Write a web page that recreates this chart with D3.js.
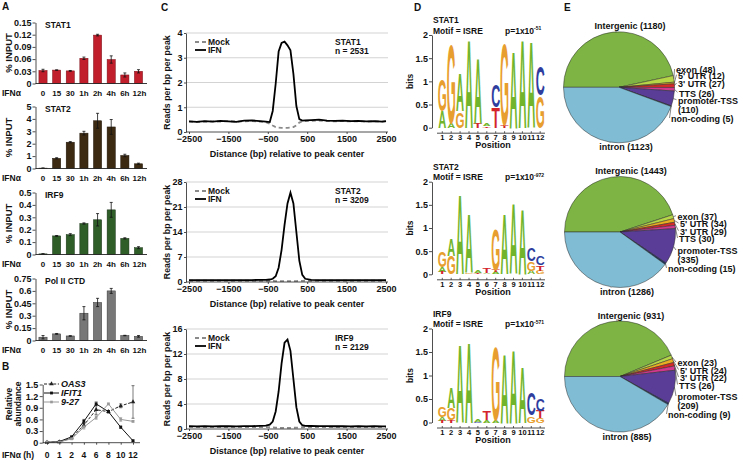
<!DOCTYPE html>
<html><head><meta charset="utf-8">
<script src="https://cdn.jsdelivr.net/npm/d3@7"></script>
<style>
body{margin:0;background:#fff}
svg{display:block}
text{font-family:"Liberation Sans",Arial,Helvetica,sans-serif;font-weight:bold;fill:#111}
</style>
</head><body>
<svg id="fig" width="743" height="463"></svg>
<script>
// ---------------- DATA ----------------
// Panel A: ChIP-qPCR % input
const timeCats = ["0","15","30","1h","2h","4h","6h","12h"];
const stat1Vals = [0.032,0.033,0.031,0.062,0.119,0.059,0.021,0.030];
const stat1Err  = [0.003,0.0005,0.001,0.003,0.002,0.009,0.005,0.004];
const stat1Ticks = [0,0.03,0.06,0.09,0.12,0.15];
const stat2Vals = [0.03,0.82,2.12,2.85,3.85,3.35,1.05,0.38];
const stat2Err  = [0.01,0.05,0.05,0.15,0.6,0.6,0.1,0.05];
const stat2Ticks = [0,1,2,3,4,5];
const irf9Vals = [0.005,0.15,0.16,0.25,0.28,0.36,0.13,0.055];
const irf9Err  = [0.001,0.003,0.008,0.005,0.05,0.06,0.005,0.008];
const irf9Ticks = [0,0.1,0.2,0.3,0.4,0.5];
const polVals = [0.04,0.08,0.055,0.33,0.46,0.60,0.06,0.05];
const polErr  = [0.02,0.005,0.003,0.08,0.05,0.03,0.003,0.01];
const polTicks = [0,0.15,0.3,0.45,0.6,0.75];

// Panel B: relative abundance
const hoursB = ["0","1","2","4","6","8","10","12"];
const bTicks = [0,0.3,0.6,0.9,1.2,1.5];
const oas3Vals = [0.01,0.02,0.12,0.45,0.85,0.80,0.95,1.05];
const oas3Err  = [0,0,0.02,0.05,0.12,0.03,0.05,0.42];
const ifit1Vals = [0.01,0.03,0.15,0.55,1.00,0.80,0.40,0.05];
const ifit1Err  = [0,0,0.02,0.05,0.05,0.03,0.03,0.02];
const g927Vals = [0.01,0.02,0.10,0.40,0.65,1.00,0.60,0.55];
const g927Err  = [0,0,0.02,0.05,0.05,0.02,0.05,0.02];

// Panel C: read density profiles
const posC = [-2500,-2300,-2100,-1900,-1700,-1500,-1300,-1100,-900,-700,-550,-450,-375,-300,-225,-150,-75,0,75,150,225,300,375,450,600,800,1000,1200,1400,1600,1800,2000,2200,2400,2500];
const cXTicks = [-2500,-1500,-500,500,1500,2500];
const stat1Ifn = [0.43,0.41,0.44,0.42,0.45,0.43,0.41,0.46,0.47,0.44,0.42,0.40,0.85,1.95,3.25,3.6,3.65,3.5,3.3,2.35,1.05,0.52,0.46,0.47,0.48,0.5,0.46,0.45,0.46,0.44,0.45,0.43,0.44,0.42,0.44];
const stat1Mock = [0.42,0.41,0.42,0.43,0.42,0.44,0.42,0.43,0.44,0.42,0.40,0.33,0.26,0.2,0.18,0.17,0.17,0.17,0.18,0.2,0.27,0.38,0.43,0.44,0.45,0.46,0.44,0.43,0.44,0.43,0.43,0.42,0.43,0.42,0.43];
const stat2Ifn = [0.55,0.5,0.55,0.5,0.55,0.5,0.55,0.5,0.55,0.6,0.6,0.7,0.9,1.6,4,9,16,22,25,22,14,6,2,0.9,0.6,0.55,0.5,0.55,0.5,0.55,0.5,0.5,0.55,0.5,0.5];
const stat2Mock = [0.35,0.35,0.35,0.35,0.35,0.35,0.35,0.35,0.35,0.35,0.35,0.33,0.3,0.27,0.25,0.25,0.25,0.25,0.25,0.25,0.27,0.3,0.33,0.35,0.35,0.35,0.35,0.35,0.35,0.35,0.35,0.35,0.35,0.35,0.35];
const irf9Ifn = [0.45,0.42,0.45,0.43,0.45,0.44,0.42,0.45,0.46,0.5,0.55,0.7,1.2,2.8,6,10.5,13.8,14.3,12.5,8,3.5,1.2,0.6,0.5,0.48,0.46,0.45,0.44,0.45,0.43,0.44,0.43,0.44,0.42,0.43];
const irf9Mock = [0.3,0.3,0.3,0.3,0.3,0.3,0.3,0.3,0.3,0.3,0.3,0.28,0.25,0.22,0.2,0.18,0.18,0.18,0.18,0.2,0.22,0.25,0.28,0.3,0.3,0.3,0.3,0.3,0.3,0.3,0.3,0.3,0.3,0.3,0.3];

// Panel D: motif logos (letters bottom -> top, heights in bits)
const logoTicks = [0,0.5,1,1.5,2];
const stat1Logo = [
  [["A",0.35],["G",0.7]],
  [["A",0.1],["G",1.75]],
  [["G",0.35],["A",0.8]],
  [["A",1.9]],
  [["T",0.1],["A",1.4]],
  [["T",0.03],["A",0.04]],
  [["T",0.45],["C",0.5]],
  [["T",0.06],["G",1.8]],
  [["A",1.65]],
  [["A",1.9]],
  [["A",1.85]],
  [["G",0.7],["C",0.65]]
];
const stat2Logo = [
  [["T",0.04],["A",0.12],["G",0.35]],
  [["G",0.4],["A",0.35]],
  [["A",1.7]],
  [["G",0.03],["A",1.25]],
  [["T",0.02],["A",0.04]],
  [["A",0.03],["T",0.1]],
  [["A",0.05],["T",0.04],["G",0.9]],
  [["A",1.3]],
  [["A",1.5]],
  [["A",1.4]],
  [["A",0.08],["G",0.2],["C",0.3]],
  [["G",0.08],["T",0.12],["C",0.2]]
];
const irf9Logo = [
  [["T",0.04],["A",0.08],["G",0.22]],
  [["T",0.05],["G",0.25],["A",0.43]],
  [["A",1.65]],
  [["A",1.72]],
  [["C",0.02],["A",0.04]],
  [["A",0.05],["T",0.2]],
  [["A",0.06],["G",1.6]],
  [["A",1.45]],
  [["A",1.55]],
  [["A",1.2]],
  [["G",0.15],["C",0.5]],
  [["G",0.1],["T",0.15],["C",0.25]]
];

// Panel E: genomic annotation of peaks
const annoCats = ["Intergenic","exon","5' UTR","3' UTR","TTS","promoter-TSS","non-coding","intron"];
const stat1Anno = [1180,48,12,27,26,110,5,1123];
const stat2Anno = [1443,37,34,29,30,335,15,1286];
const irf9Anno  = [931,23,24,22,26,209,9,885];

// ---------------- DRAWING ----------------
const svg = d3.select("#fig");
svg.append("rect").attr("width",743).attr("height",463).attr("fill","#fff");

function txt(g, x, y, s, size, o = {}) {
  const t = g.append("text").attr("x", x).attr("y", y).attr("font-size", size).text(s);
  if (o.anchor) t.attr("text-anchor", o.anchor);
  if (o.rotate) t.attr("transform", `rotate(-90,${x},${y})`);
  if (o.italic) t.attr("font-style", "italic");
  if (o.fill) t.style("fill", o.fill);
  return t;
}
function styleAxis(g, size) {
  g.attr("font-size", null).attr("font-family", null);
  g.selectAll("text").attr("font-size", size);
  g.selectAll("line,path").attr("stroke", "#222").attr("stroke-width", 0.8);
}

// Panel letters
txt(svg, 2, 10, "A", 10);
txt(svg, 2, 370, "B", 10);
txt(svg, 161, 11, "C", 10);
txt(svg, 414, 11, "D", 10);
txt(svg, 564, 11, "E", 10);

// ----- Panel A -----
const barPanels = [
  {title:"STAT1", vals:stat1Vals, errs:stat1Err, ticks:stat1Ticks, color:"#c21f2c", stroke:"#7a1018", top:22.5, base:83.5},
  {title:"STAT2", vals:stat2Vals, errs:stat2Err, ticks:stat2Ticks, color:"#3d2a12", stroke:"#1e1408", top:106.5, base:168.5},
  {title:"IRF9", vals:irf9Vals, errs:irf9Err, ticks:irf9Ticks, color:"#2f5e29", stroke:"#173015", top:192.5, base:254.5},
  {title:"Pol II CTD", vals:polVals, errs:polErr, ticks:polTicks, color:"#777", stroke:"#333", top:278.5, base:340.5}
];
barPanels.forEach(p => {
  const g = svg.append("g");
  const x = d3.scaleBand().domain(timeCats).range([35.5, 146]).paddingInner(0.4).paddingOuter(0.25);
  const y = d3.scaleLinear().domain([0, p.ticks[p.ticks.length - 1]]).range([p.base, p.top]);
  g.selectAll("rect.bar").data(p.vals).join("rect")
    .attr("x", (d, i) => x(timeCats[i])).attr("width", x.bandwidth())
    .attr("y", d => y(d)).attr("height", d => p.base - y(d))
    .attr("fill", p.color).attr("stroke", p.stroke).attr("stroke-width", 0.5);
  p.vals.forEach((v, i) => {
    const cx = x(timeCats[i]) + x.bandwidth() / 2;
    const e = p.errs[i];
    if (e > 0) {
      g.append("line").attr("x1", cx).attr("x2", cx).attr("y1", y(v - e)).attr("y2", y(v + e)).attr("stroke", "#111").attr("stroke-width", 0.8);
      [v - e, v + e].forEach(w => g.append("line").attr("x1", cx - 1.5).attr("x2", cx + 1.5).attr("y1", y(w)).attr("y2", y(w)).attr("stroke", "#111").attr("stroke-width", 0.8));
    }
    txt(g, cx + (i === 7 ? 1 : 0), p.base + 12.5, timeCats[i], 8, {anchor: "middle"});
  });
  const ax = g.append("g").attr("transform", "translate(35.5,0)")
    .call(d3.axisLeft(y).tickValues(p.ticks).tickSize(3).tickPadding(1).tickSizeOuter(0).tickFormat(d => String(d)));
  styleAxis(ax, 9);
  g.append("line").attr("x1", 35.5).attr("x2", 147).attr("y1", p.base).attr("y2", p.base).attr("stroke", "#222").attr("stroke-width", 0.9);
  txt(g, 2, p.base + 12.5, "IFNα", 8.5);
  txt(g, 45, p.top + 5, p.title, 8.5);
  txt(g, 12, (p.top + p.base) / 2, "% INPUT", 9.5, {anchor: "middle", rotate: true});
});

// ----- Panel B -----
(function () {
  const g = svg.append("g");
  const x = d3.scalePoint().domain(hoursB).range([47, 133]);
  const y = d3.scaleLinear().domain([0, 1.5]).range([442.7, 384.5]);
  const series = [
    {name:"OAS3", vals:oas3Vals, errs:oas3Err, color:"#222", dash:"3,1.6", sym:d3.symbolTriangle, size:9},
    {name:"IFIT1", vals:ifit1Vals, errs:ifit1Err, color:"#111", dash:null, sym:d3.symbolSquare, size:8},
    {name:"9-27", vals:g927Vals, errs:g927Err, color:"#999", dash:null, sym:d3.symbolSquare, size:7}
  ];
  const line = d3.line().x((d, i) => x(hoursB[i])).y(d => y(d));
  series.forEach(s => {
    s.vals.forEach((v, i) => {
      const e = s.errs[i];
      if (e > 0.015) {
        const cx = x(hoursB[i]);
        g.append("line").attr("x1", cx).attr("x2", cx).attr("y1", y(v - e)).attr("y2", y(v + e)).attr("stroke", s.color).attr("stroke-width", 0.6);
        [v - e, v + e].forEach(w => g.append("line").attr("x1", cx - 1.5).attr("x2", cx + 1.5).attr("y1", y(w)).attr("y2", y(w)).attr("stroke", s.color).attr("stroke-width", 0.6));
      }
    });
    g.append("path").attr("d", line(s.vals)).attr("fill", "none").attr("stroke", s.color)
      .attr("stroke-width", 1).attr("stroke-dasharray", s.dash);
    g.selectAll(null).data(s.vals).join("path")
      .attr("d", d3.symbol().type(s.sym).size(s.size))
      .attr("transform", (d, i) => `translate(${x(hoursB[i])},${y(d)})`)
      .attr("fill", s.color);
  });
  const ax = g.append("g").attr("transform", "translate(42.7,0)")
    .call(d3.axisLeft(y).tickValues(bTicks).tickSize(3).tickPadding(1.5).tickSizeOuter(0).tickFormat(d => String(d)));
  styleAxis(ax, 9);
  const bx = g.append("g").attr("transform", "translate(0,442.7)")
    .call(d3.axisBottom(x).tickSize(2).tickSizeOuter(0).tickFormat(() => ""));
  styleAxis(bx, 9);
  bx.select("path").attr("d", "M42.7,0H140");
  hoursB.forEach(h => txt(g, x(h), 457.5, h, 8.5, {anchor: "middle"}));
  txt(g, 2, 457.5, "IFNα (h)", 8.5);
  txt(g, 12, 404, "Relative", 8.5, {anchor: "middle", rotate: true});
  txt(g, 21, 404, "abundance", 8.5, {anchor: "middle", rotate: true});
  // legend
  series.forEach((s, k) => {
    const ly = 384 + k * 9;
    g.append("line").attr("x1", 44).attr("x2", 59).attr("y1", ly).attr("y2", ly)
      .attr("stroke", s.color).attr("stroke-width", 1).attr("stroke-dasharray", s.dash);
    g.append("path").attr("d", d3.symbol().type(s.sym).size(s.size)).attr("transform", `translate(51.5,${ly})`).attr("fill", s.color);
    txt(g, 61, ly + 3.2, s.name, 9, {italic: true});
  });
})();

// ----- Panel C -----
const cPanels = [
  {name:"STAT1", n:"n = 2531", ifn:stat1Ifn, mock:stat1Mock, ticks:[0,1,2,3,4], top:33, base:132},
  {name:"STAT2", n:"n = 3209", ifn:stat2Ifn, mock:stat2Mock, ticks:[0,7,14,21,28], top:182, base:282},
  {name:"IRF9", n:"n = 2129", ifn:irf9Ifn, mock:irf9Mock, ticks:[0,4,8,12,16], top:329, base:429}
];
const xC = d3.scaleLinear().domain([-2500, 2500]).range([189, 386]);
cPanels.forEach(p => {
  const g = svg.append("g");
  const y = d3.scaleLinear().domain([0, p.ticks[p.ticks.length - 1]]).range([p.base, p.top]);
  p.ticks.filter(t => t > 0).forEach(t => g.append("line").attr("x1", 186).attr("x2", 388)
    .attr("y1", y(t)).attr("y2", y(t)).attr("stroke", "#c8c8c8").attr("stroke-width", 0.8));
  const line = d3.line().x((d, i) => xC(posC[i])).y(d => y(d));
  g.append("path").attr("d", line(p.mock)).attr("fill", "none").attr("stroke", "#8a8a8a")
    .attr("stroke-width", 1.8).attr("stroke-dasharray", "4,3");
  g.append("path").attr("d", line(p.ifn)).attr("fill", "none").attr("stroke", "#000").attr("stroke-width", 1.8);
  const ax = g.append("g").attr("transform", "translate(186,0)")
    .call(d3.axisLeft(y).tickValues(p.ticks).tickSize(2).tickPadding(1.5).tickSizeOuter(0).tickFormat(d3.format("d")));
  styleAxis(ax, 9);
  const bx = g.append("g").attr("transform", `translate(0,${p.base})`)
    .call(d3.axisBottom(xC).tickValues(cXTicks).tickSize(2).tickPadding(2).tickSizeOuter(0).tickFormat(d3.format("d")));
  styleAxis(bx, 9);
  bx.select("path").attr("d", "M186,0H388");
  txt(g, 287, p.base + 25, "Distance (bp) relative to peak center", 9, {anchor: "middle"});
  txt(g, 170, (p.top + p.base) / 2, "Reads per bp per peak", 8.8, {anchor: "middle", rotate: true});
  g.append("line").attr("x1", 195).attr("x2", 206).attr("y1", p.top + 9).attr("y2", p.top + 9)
    .attr("stroke", "#8a8a8a").attr("stroke-width", 1.8).attr("stroke-dasharray", "4,3");
  g.append("line").attr("x1", 195).attr("x2", 206).attr("y1", p.top + 17).attr("y2", p.top + 17)
    .attr("stroke", "#000").attr("stroke-width", 1.8);
  txt(g, 208, p.top + 12, "Mock", 8.5);
  txt(g, 208, p.top + 20, "IFN", 8.5);
  txt(g, 335, p.top + 12, p.name, 8.5);
  txt(g, 335, p.top + 20.5, p.n, 8.5);
});

// ----- Panel D -----
const letterColor = {A:"#72b52c", C:"#2f3d9e", G:"#e89e2e", T:"#d4242b"};
const glyph = { // lsb, ink width, cap height (em) for Liberation Sans Bold
  A:{lsb:0.0, ink:0.722, cap:0.70},
  C:{lsb:0.045, ink:0.64, cap:0.73},
  G:{lsb:0.045, ink:0.69, cap:0.73},
  T:{lsb:0.02, ink:0.58, cap:0.70}
};
const logoPanels = [
  {name:"STAT1", p:"-51", data:stat1Logo, top:35, base:127.7},
  {name:"STAT2", p:"-972", data:stat2Logo, top:181.7, base:274.3},
  {name:"IRF9", p:"-571", data:irf9Logo, top:328.5, base:422.5}
];
const xD = d3.scaleLinear().domain([1, 12]).range([442.3, 540.2]);
logoPanels.forEach(p => {
  const g = svg.append("g");
  const y = d3.scaleLinear().domain([0, 2]).range([p.base, p.top]);
  const w = 8.0, fs = 10;
  p.data.forEach((col, i) => {
    let cum = 0;
    const cx = xD(i + 1);
    col.forEach(([L, h]) => {
      const yb = y(cum), yt = y(cum + h);
      cum += h;
      const ph = yb - yt;
      if (ph < 0.4) return;
      const m = glyph[L];
      const sx = w / (m.ink * fs), sy = ph / (m.cap * fs);
      g.append("text").attr("font-size", fs).attr("x", 0).attr("y", 0)
        .attr("transform", `translate(${cx - w / 2},${yb}) scale(${sx},${sy}) translate(${-m.lsb * fs},0)`)
        .style("fill", letterColor[L]).text(L);
    });
  });
  const ax = g.append("g").attr("transform", "translate(432,0)")
    .call(d3.axisLeft(y).tickValues(logoTicks).tickSize(3).tickPadding(1).tickSizeOuter(0).tickFormat(d => String(d)));
  styleAxis(ax, 9);
  // position axis
  const pa = p.base + 5.5;
  g.append("line").attr("x1", 437).attr("x2", 545).attr("y1", pa).attr("y2", pa).attr("stroke", "#222").attr("stroke-width", 0.8);
  d3.range(1, 13).forEach(k => {
    g.append("line").attr("x1", xD(k)).attr("x2", xD(k)).attr("y1", pa).attr("y2", pa - 2).attr("stroke", "#222").attr("stroke-width", 0.7);
    txt(g, xD(k), p.base + 12.5, String(k), 7.5, {anchor: "middle"});
  });
  txt(g, 493, p.base + 20.5, "Position", 9, {anchor: "middle"});
  txt(g, 413, (p.top + p.base) / 2, "bits", 8.5, {anchor: "middle", rotate: true});
  txt(g, 433, p.top - 12, p.name, 8.5);
  txt(g, 433, p.top - 1.5, "Motif = ISRE", 8.5);
  const pt = txt(g, 505, p.top - 1.5, "p=1x10", 8.5);
  pt.append("tspan").attr("font-size", 5).attr("dy", -3.5).text(p.p);
});

// ----- Panel E -----
const annoColors = ["#7db443","#b6d547","#e8ad22","#d42a28","#d2398e","#5a3d97","#1e3566","#80bdd4"];
const pieLayouts = [
  {vals:stat1Anno, cx:619, cy:87.3, dys:[-17.3,-11.6,-3.3,6,13.4,22.7,31.7], xs:[676,678,678,679,678,678,671]},
  {vals:stat2Anno, cx:620, cy:232, dys:[-15.3,-8,-0.3,7,19,27.3,37], xs:[677.5,680,680,679,677.5,677.5,668]},
  {vals:irf9Anno, cx:620, cy:376.5, dys:[-13.5,-6,1.5,9,20.5,29,38.5], xs:[677.5,680,680,679,677.5,677.5,668]}
];
const R = 55.5;
const pie = d3.pie().sort(null).value(d => d).startAngle(-Math.PI / 2).endAngle(3 * Math.PI / 2);
const arc = d3.arc().innerRadius(0).outerRadius(R);
pieLayouts.forEach(L => {
  const g = svg.append("g");
  const pg = g.append("g").attr("transform", `translate(${L.cx},${L.cy})`);
  const arcs = pie(L.vals);
  pg.selectAll("path").data(arcs).join("path").attr("d", arc)
    .attr("fill", (d, i) => annoColors[i]).attr("stroke", "#2a2a2a").attr("stroke-width", 0.5);
  // top / bottom labels
  txt(g, L.cx + 11, L.cy - 58, `${annoCats[0]} (${L.vals[0]})`, 9, {anchor: "middle"});
  g.append("line").attr("x1", L.cx - 3).attr("x2", L.cx - 3).attr("y1", L.cy - 57.5).attr("y2", L.cy - R + 0.5).attr("stroke", "#333").attr("stroke-width", 0.6);
  txt(g, L.cx + 7, L.cy + 63, `${annoCats[7]} (${L.vals[7]})`, 9, {anchor: "middle"});
  g.append("line").attr("x1", L.cx - 9).attr("x2", L.cx - 9).attr("y1", L.cy + R - 0.5).attr("y2", L.cy + 55.5).attr("stroke", "#333").attr("stroke-width", 0.6);
  // right labels (categories 1..6)
  const slots = [1, 2, 3, 4, 5, 6];
  slots.forEach((ci, k) => {
    const a = (arcs[ci].startAngle + arcs[ci].endAngle) / 2;
    const ax = L.cx + R * Math.sin(a), ay = L.cy - R * Math.cos(a);
    const slotIdx = ci <= 5 ? k : 6; // promoter uses two lines; non-coding uses last slot
    const lx = L.xs[slotIdx], ly = L.dys[slotIdx] + L.cy;
    g.append("line").attr("x1", ax).attr("y1", ay).attr("x2", lx - 1.5).attr("y2", ly - 1)
      .attr("stroke", "#333").attr("stroke-width", 0.6);
    if (ci === 5) {
      txt(g, lx, ly + 3.2, annoCats[ci], 9);
      txt(g, L.xs[5], L.dys[5] + L.cy + 3.2, `(${L.vals[ci]})`, 9);
    } else {
      txt(g, lx, ly + 3.2, `${annoCats[ci]} (${L.vals[ci]})`, 9);
    }
  });
});
</script>
</body></html>
